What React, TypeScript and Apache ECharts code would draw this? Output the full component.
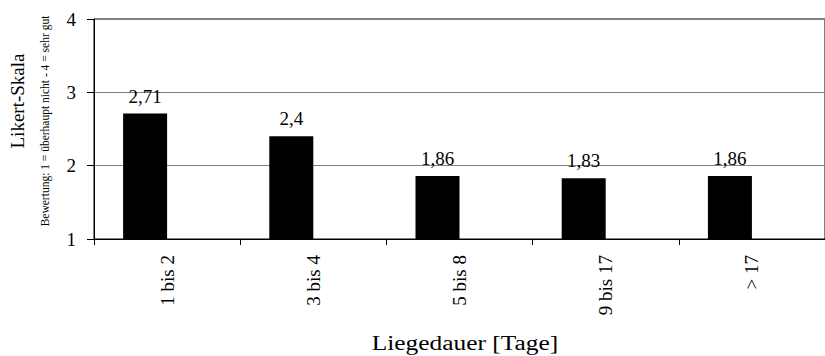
import React, { useEffect, useRef } from "react";
import * as echarts from "echarts";

const categories = ["1 bis 2", "3 bis 4", "5 bis 8", "9 bis 17", "> 17"];
const values = [2.71, 2.4, 1.86, 1.83, 1.86];
const emptySeries = [null, null, null, null, null];
const yTicks = { min: 1, max: 4, interval: 1 };

const FONT = "Liberation Serif";

export default function App() {
  const ref = useRef<HTMLDivElement>(null);
  useEffect(() => {
    if (!ref.current) return;
    const chart = echarts.init(ref.current, null, { renderer: "svg" });
    chart.setOption({
      animation: false,
      backgroundColor: "#ffffff",
      textStyle: { fontFamily: FONT, color: "#000" },
      grid: {
        left: 94,
        top: 19,
        width: 747,
        height: 220,
        show: true,
        borderColor: "#000",
        borderWidth: 1,
        backgroundColor: "transparent",
      },
      xAxis: {
        type: "category",
        data: categories,
        axisLine: { lineStyle: { color: "#000", width: 1 } },
        axisTick: { show: true, length: 6, lineStyle: { color: "#000" } },
        axisLabel: {
          rotate: 90,
          margin: 16,
          fontSize: 19,
          fontFamily: FONT,
          color: "#000",
        },
        splitLine: { show: false },
      },
      yAxis: {
        type: "value",
        min: yTicks.min,
        max: yTicks.max,
        interval: yTicks.interval,
        axisLine: { show: true, lineStyle: { color: "#000", width: 1 } },
        axisTick: { show: true, length: 7, lineStyle: { color: "#000" } },
        axisLabel: { margin: 18, fontSize: 19, fontFamily: FONT, color: "#000" },
        splitLine: { show: true, lineStyle: { color: "#808080", width: 1 } },
      },
      series: [
        {
          type: "bar",
          data: values,
          barWidth: 44,
          barGap: "0%",
          itemStyle: { color: "#000" },
          label: {
            show: true,
            position: "top",
            distance: 8,
            fontSize: 19,
            fontFamily: FONT,
            color: "#000",
            formatter: (p: any) => String(p.value).replace(".", ","),
          },
        },
        {
          type: "bar",
          data: emptySeries,
          barWidth: 44,
          barGap: "0%",
          itemStyle: { color: "#fff" },
        },
      ],
      graphic: [
        {
          type: "text",
          x: 17,
          y: 101,
          rotation: Math.PI / 2,
          style: {
            text: "Likert-Skala",
            fontSize: 19,
            fontFamily: FONT,
            fill: "#000",
            textAlign: "center",
            textVerticalAlign: "middle",
          },
        },
        {
          type: "text",
          x: 45,
          y: 121,
          rotation: Math.PI / 2,
          style: {
            text: "Bewertung: 1 = überhaupt nicht - 4 = sehr gut",
            fontSize: 11.5,
            fontFamily: FONT,
            fill: "#000",
            textAlign: "center",
            textVerticalAlign: "middle",
          },
        },
        {
          type: "text",
          x: 465,
          y: 343,
          scaleX: 1.27,
          style: {
            text: "Liegedauer [Tage]",
            fontSize: 20,
            fontFamily: FONT,
            fill: "#000",
            textAlign: "center",
            textVerticalAlign: "middle",
          },
        },
      ],
    });
    return () => chart.dispose();
  }, []);
  return (
    <div
      ref={ref}
      style={{ position: "absolute", left: 0, top: 0, width: 825, height: 356 }}
    />
  );
}
